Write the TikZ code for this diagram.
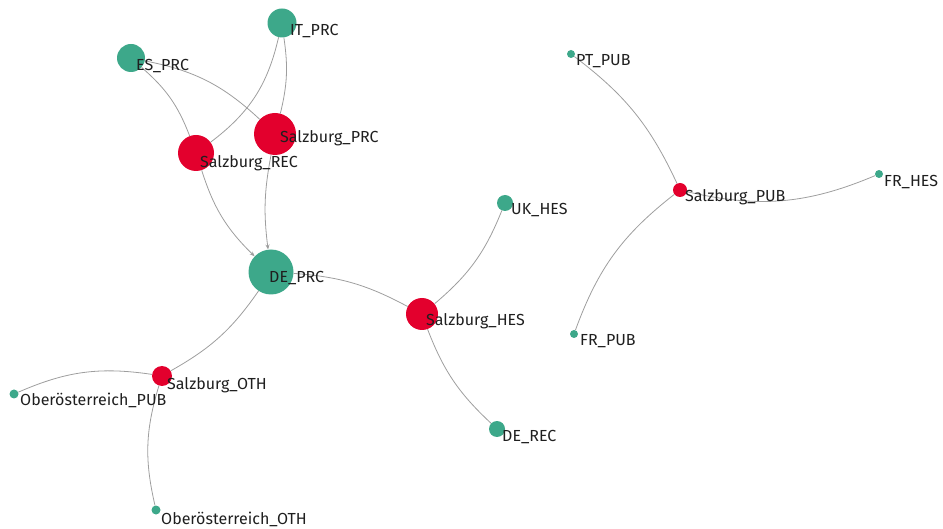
\documentclass[tikz,border=0pt]{standalone}
\usepackage{fontspec}
\setmainfont{Fira Sans}
\usetikzlibrary{arrows.meta}
\definecolor{hubred}{RGB}{227,0,45}
\definecolor{leafgreen}{RGB}{61,168,138}
\definecolor{linkgray}{RGB}{158,158,158}
\begin{document}
\begin{tikzpicture}[x=1pt,y=1pt,
    bubble/.style={circle,inner sep=0pt,minimum size=#1},
    green dot/.style={bubble=#1,fill=leafgreen},
    red dot/.style={bubble=#1,fill=hubred},
    link/.style={draw=linkgray,line width=0.8pt},
    flow/.style={link,-{Stealth[length=5pt,width=4pt]}},
    tag/.style={anchor=base west,inner sep=0pt,text=black!88,
      font=\fontsize{16}{18}\selectfont}]
  \useasboundingbox (0,0) rectangle (943,-529);
  % nodes
  \node[green dot=29] (itprc) at (282,-23) {};
  \node[green dot=28] (esprc) at (131,-58) {};
  \node[red dot=42] (sprc) at (275,-134) {};
  \node[red dot=36] (srec) at (196,-153) {};
  \node[green dot=45] (deprc) at (271,-272) {};
  \node[green dot=16] (ukhes) at (505,-203) {};
  \node[red dot=32] (shes) at (422,-314) {};
  \node[green dot=16] (derec) at (497,-429) {};
  \node[red dot=20] (soth) at (162,-376) {};
  \node[green dot=9] (oopub) at (14,-394) {};
  \node[green dot=9] (ooth) at (156,-510) {};
  \node[green dot=8] (ptpub) at (571,-54) {};
  \node[red dot=14] (spub) at (680,-190) {};
  \node[green dot=8] (frhes) at (879,-174) {};
  \node[green dot=8] (frpub) at (574,-334) {};
  % links
  \draw[link] (esprc) to[bend left=14] (srec);
  \draw[link] (esprc) to[bend left=16] (sprc);
  \draw[link] (itprc) to[bend left=20] (srec);
  \draw[link] (itprc) to[bend left=11] (sprc);
  \draw[flow] (srec) to[bend right=14] (deprc);
  \draw[flow] (sprc) to[bend right=9] (deprc);
  \draw[link] (deprc) to[bend left=12] (shes);
  \draw[link] (ukhes) to[bend left=14] (shes);
  \draw[link] (shes) to[bend right=13] (derec);
  \draw[link] (deprc) to[bend left=13] (soth);
  \draw[link] (soth) to[bend right=16] (oopub);
  \draw[link] (soth) to[bend right=15] (ooth);
  \draw[link] (spub) to[bend right=14] (ptpub);
  \draw[link] (spub) to[bend right=18] (frhes);
  \draw[link] (spub) to[bend right=16] (frpub);
  % labels
  \node[tag] (itprcl) at (290,-36) {IT\_PRC};
  \node[tag] (esprcl) at (136,-71) {ES\_PRC};
  \node[tag] (sprcl) at (280,-143) {Salzburg\_PRC};
  \node[tag] (srecl) at (200,-168) {Salzburg\_REC};
  \node[tag] (deprcl) at (269,-283) {DE\_PRC};
  \node[tag] (ukhesl) at (511,-215) {UK\_HES};
  \node[tag] (shesl) at (426,-326) {Salzburg\_HES};
  \node[tag] (derecl) at (502,-441) {DE\_REC};
  \node[tag] (sothl) at (167,-389) {Salzburg\_OTH};
  \node[tag] (oopubl) at (20,-406) {Oberösterreich\_PUB};
  \node[tag] (oothl) at (161,-524) {Oberösterreich\_OTH};
  \node[tag] (ptpubl) at (576,-66) {PT\_PUB};
  \node[tag] (spubl) at (685,-202) {Salzburg\_PUB};
  \node[tag] (frhesl) at (884,-187) {FR\_HES};
  \node[tag] (frpubl) at (580,-346) {FR\_PUB};
\end{tikzpicture}
\end{document}
